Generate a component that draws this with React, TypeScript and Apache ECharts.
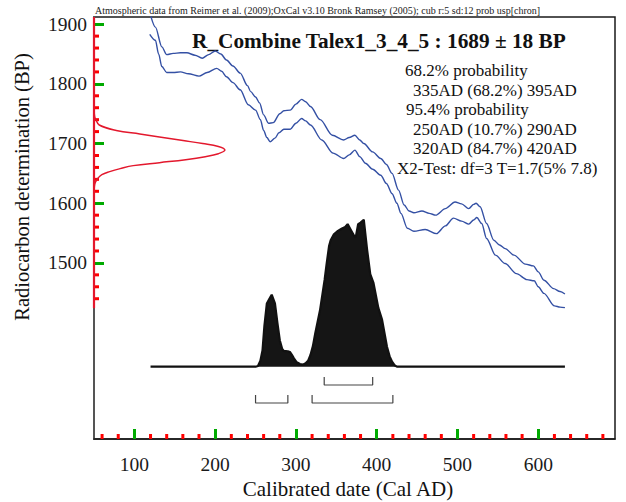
import React, { useEffect, useRef } from "react";
import * as echarts from "echarts";

// ---------- data ----------
const xMajorTicks = [100, 200, 300, 400, 500, 600];
const xMinorTicks = [60, 80, 120, 140, 160, 180, 220, 240, 260, 280, 320, 340, 360, 380, 420, 440, 460, 480, 520, 540, 560, 580, 620, 640, 660, 680];
const yMajorTicks = [1500, 1600, 1700, 1800, 1900];
const yMinorTicks = [1440, 1460, 1480, 1520, 1540, 1560, 1580, 1620, 1640, 1660, 1680, 1720, 1740, 1760, 1780, 1820, 1840, 1860, 1880];

// calibration curve, upper 1-sigma envelope (Cal AD, BP)
const upperAD = [120, 126, 134, 140, 148, 157, 165, 175, 184, 192, 200, 207, 214, 222, 231, 240, 244, 250, 255, 260, 266, 272, 280, 285, 293, 300, 307, 312, 318, 330, 345, 359, 366, 373, 379, 384, 395, 405, 412, 419, 427, 434, 440, 446, 456, 465, 473, 485, 497, 505, 514, 520, 523, 528, 536, 545, 552, 559, 570, 584, 594, 600, 607, 619, 627, 633];
const upperBP = [1915, 1895, 1862, 1849, 1851, 1852, 1852, 1848, 1843, 1849, 1855, 1850, 1840, 1830, 1818, 1797, 1787, 1778, 1768, 1748, 1734, 1735, 1750, 1755, 1756, 1766, 1774, 1770, 1762, 1740, 1714, 1706, 1710, 1714, 1706, 1700, 1686, 1675, 1665, 1650, 1622, 1597, 1587, 1584, 1587, 1583, 1580, 1591, 1602, 1599, 1591, 1598, 1600, 1594, 1566, 1538, 1530, 1524, 1513, 1498, 1495, 1485, 1471, 1457, 1452, 1448];

// calibration curve, lower 1-sigma envelope
const lowerAD = [119, 126, 130, 134, 140, 148, 157, 167, 180, 190, 202, 208, 214, 222, 231, 241, 250, 256, 260, 264, 268, 274, 279, 285, 293, 300, 307, 312, 318, 332, 346, 359, 366, 373, 379, 386, 395, 405, 412, 419, 425, 430, 438, 446, 460, 474, 485, 495, 505, 514, 520, 524, 530, 536, 547, 559, 573, 586, 595, 600, 607, 620, 627, 633];
const lowerBP = [1883, 1873, 1850, 1829, 1819, 1819, 1820, 1817, 1813, 1819, 1826, 1821, 1812, 1802, 1790, 1765, 1756, 1740, 1722, 1710, 1703, 1709, 1718, 1724, 1724, 1734, 1742, 1738, 1731, 1706, 1684, 1675, 1681, 1689, 1678, 1667, 1657, 1647, 1633, 1616, 1600, 1583, 1558, 1553, 1556, 1549, 1562, 1575, 1570, 1565, 1572, 1576, 1566, 1541, 1513, 1499, 1482, 1472, 1470, 1460, 1449, 1428, 1426, 1425];

// radiocarbon likelihood 1689 ± 18 BP (BP, relative height)
const likBP = [1760, 1745, 1740, 1731, 1722, 1716, 1711, 1705, 1700, 1695, 1689, 1683, 1678, 1673, 1668, 1663, 1658, 1653, 1648, 1642, 1635, 1628, 1615];
const likRel = [0, 0.005, 0.015, 0.04, 0.17, 0.35, 0.5, 0.68, 0.83, 0.95, 1.0, 0.95, 0.85, 0.7, 0.5, 0.3, 0.2, 0.12, 0.06, 0.03, 0.01, 0.003, 0];

// calibrated probability distribution (Cal AD, relative height)
const distAD = [120, 250, 253, 256, 258.6, 261, 264, 267, 270, 274, 277, 280, 283, 285, 290, 292.5, 295, 297.5, 301, 305, 309, 312, 315, 318, 321, 324, 330, 335.5, 338, 341, 343, 347, 351, 357, 361, 364, 368, 372, 374, 377, 380, 384, 388, 392, 396, 402, 406.6, 412.7, 416, 419, 422, 425, 633];
const distRel = [0, 0, 0.005, 0.04, 0.11, 0.28, 0.43, 0.46, 0.49, 0.43, 0.3, 0.18, 0.12, 0.107, 0.105, 0.1, 0.08, 0.057, 0.03, 0.018, 0.015, 0.023, 0.04, 0.08, 0.14, 0.23, 0.39, 0.59, 0.7, 0.82, 0.86, 0.9, 0.92, 0.94, 0.95, 0.97, 0.93, 0.89, 0.88, 0.97, 0.98, 1.0, 0.8, 0.63, 0.57, 0.4, 0.32, 0.136, 0.07, 0.034, 0.01, 0, 0];

const range68 = [[335, 395]];
const range95 = [[250, 290], [320, 420]];
const redAxisBP = [1424, 1912];

const headerText = "Atmospheric data from Reimer et al. (2009);OxCal v3.10 Bronk Ramsey (2005); cub r:5 sd:12 prob usp[chron]";
const titleText = "R_Combine Talex1_3_4_5 : 1689 ± 18 BP";
const summaryLines = [
  "68.2% probability",
  "335AD (68.2%) 395AD",
  "95.4% probability",
  "250AD (10.7%) 290AD",
  "320AD (84.7%) 420AD",
  "X2-Test: df=3 T=1.7(5% 7.8)",
];
const xTitle = "Calibrated date (Cal AD)";
const yTitle = "Radiocarbon determination (BP)";

// ---------- layout ----------
const FONT = "'Liberation Serif', 'DejaVu Serif', serif";
const BLUE = "#3450a4";
const RED = "#e3182d";
const TICK = "#ff0000";
const summaryX = [405, 413, 406, 413, 413, 397];
const summaryY = [70, 90, 109, 129, 148, 168];
const GRID = { left: 94, top: 17, width: 521, height: 422 };
const X_RANGE = { min: 50, max: 695 };
const Y_RANGE = { min: 1205, max: 1912 };
const LIK_RANGE = { min: 0, max: 3.98 };
const DIST_RANGE = { min: -0.492, max: 2.379 };

function minorX(values: number[], len: number) {
  return {
    type: "custom", xAxisIndex: 0, yAxisIndex: 0, silent: true,
    data: values.map((v) => [v, Y_RANGE.min]),
    encode: { x: 0, y: 1 },
    renderItem: (_p: any, api: any) => {
      const pt = api.coord([api.value(0), api.value(1)]);
      return { type: "line", shape: { x1: pt[0], y1: pt[1], x2: pt[0], y2: pt[1] - len }, style: { stroke: TICK, lineWidth: 3 } };
    },
  };
}
function minorY(values: number[], len: number) {
  return {
    type: "custom", xAxisIndex: 0, yAxisIndex: 0, silent: true,
    data: values.map((v) => [X_RANGE.min, v]),
    encode: { x: 0, y: 1 },
    renderItem: (_p: any, api: any) => {
      const pt = api.coord([api.value(0), api.value(1)]);
      return { type: "line", shape: { x1: pt[0], y1: pt[1], x2: pt[0] + len, y2: pt[1] }, style: { stroke: TICK, lineWidth: 3 } };
    },
  };
}

function bracket(r: number[], top: number, bottom: number) {
  return {
    type: "line", xAxisIndex: 1, yAxisIndex: 1, clip: false, symbol: "none", silent: true,
    lineStyle: { color: "#444", width: 1.2 },
    data: [[r[0], top], [r[0], bottom], [r[1], bottom], [r[1], top]],
  };
}

export default function App() {
  const ref = useRef<HTMLDivElement>(null);
  useEffect(() => {
    if (!ref.current) return;
    const chart = echarts.init(ref.current, undefined, { renderer: "svg" });
    const option: any = {
      animation: false,
      backgroundColor: "#ffffff",
      grid: [
        { ...GRID, show: true, borderColor: "#1a1a1a", borderWidth: 1.5 },
        { ...GRID },
        { ...GRID },
      ],
      xAxis: [
        {
          gridIndex: 0, type: "value", ...X_RANGE, position: "bottom",
          axisLine: { show: true, onZero: false, lineStyle: { color: "#1a1a1a", width: 1.5 } },
          axisTick: { show: true, inside: true, length: 10, customValues: xMajorTicks, lineStyle: { color: "#00aa00", width: 3 } },
          axisLabel: { show: true, customValues: xMajorTicks, margin: 15, color: "#1a1a1a", fontFamily: FONT, fontSize: 19.5, formatter: (v: number) => String(v) },
          splitLine: { show: false },
        },
        { gridIndex: 1, type: "value", ...X_RANGE, show: false },
        { gridIndex: 2, type: "value", ...LIK_RANGE, show: false },
      ],
      yAxis: [
        {
          gridIndex: 0, type: "value", ...Y_RANGE, position: "left",
          axisLine: { show: true, onZero: false, lineStyle: { color: "#555", width: 2 } },
          axisTick: { show: true, inside: true, length: 10, customValues: yMajorTicks, lineStyle: { color: "#00aa00", width: 3 } },
          axisLabel: { show: true, customValues: yMajorTicks, margin: 7, color: "#1a1a1a", fontFamily: FONT, fontSize: 19.5, formatter: (v: number) => String(v) },
          splitLine: { show: false },
        },
        { gridIndex: 1, type: "value", ...DIST_RANGE, show: false },
        { gridIndex: 2, type: "value", ...Y_RANGE, show: false },
      ],
      series: [
        {
          type: "line", xAxisIndex: 0, yAxisIndex: 0, symbol: "none", smooth: 0.3, smoothMonotone: "x",
          lineStyle: { color: BLUE, width: 1.4 },
          data: upperAD.map((a, i) => [a, upperBP[i]]),
        },
        {
          type: "line", xAxisIndex: 0, yAxisIndex: 0, symbol: "none", smooth: 0.3, smoothMonotone: "x",
          lineStyle: { color: BLUE, width: 1.4 },
          data: lowerAD.map((a, i) => [a, lowerBP[i]]),
        },
        minorX(xMinorTicks, 5),
        minorY(yMinorTicks, 5),
        {
          type: "line", xAxisIndex: 1, yAxisIndex: 1, symbol: "none",
          lineStyle: { color: "#111", width: 2.2 },
          areaStyle: { color: "#151515", opacity: 1 },
          data: distAD.map((a, i) => [a, distRel[i]]),
        },
        ...range68.map((r) => bracket(r, -0.07, -0.1245)),
        ...range95.map((r) => bracket(r, -0.1925, -0.247)),
        {
          type: "line", xAxisIndex: 2, yAxisIndex: 2, symbol: "none", smooth: 0.4, clip: false,
          lineStyle: { color: RED, width: 1.5 },
          data: likRel.map((r, i) => [r, likBP[i]]),
        },
        {
          type: "line", xAxisIndex: 2, yAxisIndex: 2, symbol: "none", clip: false, z: 7,
          lineStyle: { color: RED, width: 2.2 },
          data: redAxisBP.map((b) => [0, b]),
        },
      ],
      graphic: [
        { type: "text", x: 95, y: 15, style: { text: headerText, font: `10px ${FONT}`, fill: "#222", align: "left", verticalAlign: "bottom" } },
        { type: "text", x: 192, y: 41, style: { text: titleText, font: `bold 21.3px ${FONT}`, fill: "#111", align: "left", verticalAlign: "middle" } },
        ...summaryLines.map((t, i) => ({
          type: "text", x: summaryX[i], y: summaryY[i],
          style: { text: t, font: `17px ${FONT}`, fill: "#111", align: "left", verticalAlign: "middle" },
        })),
        { type: "text", x: 348, y: 489, style: { text: xTitle, font: `21px ${FONT}`, fill: "#111", align: "center", verticalAlign: "middle" } },
        { type: "text", x: 22, y: 187, rotation: Math.PI / 2, style: { text: yTitle, font: `20.5px ${FONT}`, fill: "#111", align: "center", verticalAlign: "middle" } },
      ],
    };
    chart.setOption(option);
    return () => chart.dispose();
  }, []);
  return <div ref={ref} style={{ position: "fixed", left: 0, top: 0, width: 626, height: 502 }} />;
}
